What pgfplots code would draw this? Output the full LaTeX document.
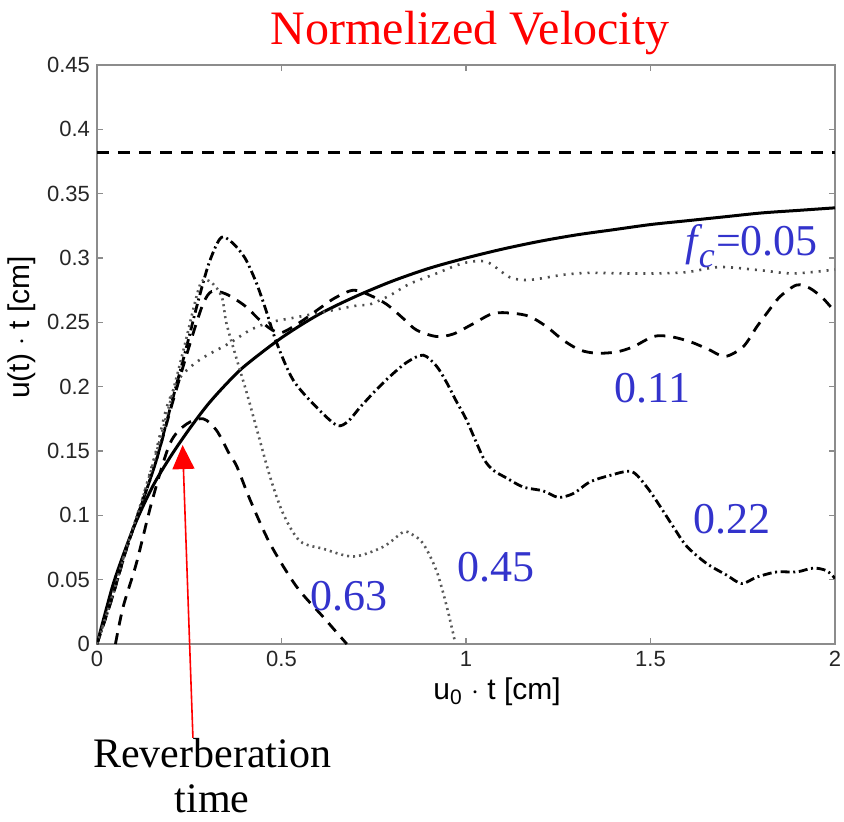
\documentclass[border=0pt]{standalone}
\usepackage{fontspec}
\setmainfont{Liberation Serif}
\setsansfont{Liberation Sans}
\usepackage{pgfplots}
\pgfplotsset{compat=1.18}
\usetikzlibrary{arrows.meta}
\definecolor{lblue}{RGB}{51,51,204}
\definecolor{axgray}{RGB}{140,140,140}
\begin{document}
\begin{tikzpicture}
\begin{axis}[name=ax, width=369pt, height=289.5pt, scale only axis,
  xmin=0, xmax=2, ymin=0, ymax=0.45,
  xtick={0,0.5,1,1.5,2}, xticklabels={0,0.5,1,1.5,2},
  ytick={0,0.05,0.1,0.15,0.2,0.25,0.3,0.35,0.4,0.45},
  yticklabels={0,0.05,0.1,0.15,0.2,0.25,0.3,0.35,0.4,0.45},
  tick align=inside, major tick length=3pt,
  axis line style={axgray, line width=1pt},
  tick style={axgray, line width=0.8pt},
  ticklabel style={font=\sffamily\fontsize{11}{13}\selectfont, text=black!85},
  clip mode=individual,
]
% horizontal asymptote
\addplot[black, line width=1.3pt, dash pattern=on 6pt off 4.5pt] coordinates {(0,0.382) (2,0.382)};
% solid reference curve
\addplot[black, line width=1.5pt, smooth] coordinates {
(0,0) (0.025,0.027) (0.05,0.052) (0.1,0.091) (0.15,0.122) (0.2,0.146) (0.25,0.167) (0.3,0.186)
(0.35,0.202) (0.4,0.216) (0.5,0.238) (0.6,0.256) (0.7,0.270) (0.8,0.282) (0.9,0.292) (1.0,0.300)
(1.1,0.307) (1.2,0.313) (1.3,0.318) (1.4,0.322) (1.5,0.326) (1.6,0.329) (1.7,0.332) (1.8,0.335)
(1.9,0.337) (2.0,0.339)};
% fc = 0.05 (dotted)
\addplot[black!70, line width=1.3pt, dash pattern=on 1pt off 3pt, smooth] coordinates {
(0,0) (0.04,0.036) (0.08,0.075) (0.12,0.11) (0.16,0.15) (0.19,0.185) (0.225,0.207) (0.279,0.221)
(0.360,0.234) (0.415,0.244) (0.469,0.250) (0.541,0.254) (0.613,0.258) (0.704,0.263) (0.740,0.264)
(0.794,0.271) (0.848,0.280) (0.920,0.288) (0.993,0.296) (1.056,0.297) (1.119,0.285) (1.173,0.283)
(1.264,0.287) (1.336,0.2885) (1.426,0.288) (1.508,0.288) (1.598,0.289) (1.688,0.293) (1.797,0.2905)
(1.887,0.288) (2.0,0.291)};
% fc = 0.11 (dashed)
\addplot[black, line width=1.4pt, dash pattern=on 5.5pt off 4pt, smooth] coordinates {
(0,0) (0.04,0.035) (0.08,0.074) (0.12,0.108) (0.16,0.142) (0.2,0.183) (0.24,0.222) (0.27,0.250)
(0.29,0.266) (0.311,0.274) (0.35,0.272) (0.40,0.263) (0.44,0.252) (0.47,0.245) (0.50,0.242)
(0.55,0.250) (0.604,0.261) (0.645,0.269) (0.695,0.275) (0.74,0.271) (0.785,0.264) (0.83,0.253)
(0.866,0.244) (0.92,0.239) (0.966,0.241) (1.02,0.249) (1.074,0.257) (1.128,0.257) (1.173,0.2545)
(1.219,0.2465) (1.264,0.236) (1.309,0.2285) (1.354,0.226) (1.408,0.227) (1.453,0.231) (1.508,0.239)
(1.553,0.239) (1.607,0.235) (1.657,0.229) (1.702,0.2235) (1.751,0.231) (1.788,0.2465) (1.815,0.257)
(1.851,0.270) (1.896,0.279) (1.932,0.2765) (1.968,0.2685) (2.0,0.258)};
% fc = 0.22 (dash-dot)
\addplot[black, line width=1.4pt, dash pattern=on 4.5pt off 1.8pt on 1pt off 1.8pt, smooth] coordinates {
(0,0) (0.04,0.035) (0.08,0.074) (0.12,0.108) (0.16,0.142) (0.2,0.185) (0.24,0.228) (0.27,0.262)
(0.30,0.293) (0.325,0.311) (0.342,0.3165) (0.37,0.311) (0.401,0.300) (0.43,0.282) (0.455,0.262)
(0.487,0.234) (0.532,0.205) (0.595,0.184) (0.650,0.170) (0.68,0.173) (0.713,0.184) (0.755,0.197)
(0.794,0.208) (0.84,0.219) (0.884,0.2245) (0.92,0.216) (0.948,0.203) (0.975,0.188) (1.0,0.175)
(1.029,0.156) (1.05,0.143) (1.074,0.135) (1.110,0.129) (1.155,0.122) (1.209,0.119) (1.250,0.114)
(1.291,0.117) (1.336,0.126) (1.390,0.131) (1.449,0.134) (1.490,0.122) (1.526,0.107) (1.562,0.091)
(1.598,0.076) (1.652,0.0626) (1.706,0.0536) (1.747,0.047) (1.788,0.052) (1.842,0.056) (1.896,0.056)
(1.941,0.059) (1.977,0.057) (2.0,0.051)};
% fc = 0.45 (dotted)
\addplot[black!65, line width=1.3pt, dash pattern=on 1pt off 2pt, smooth] coordinates {
(0,0) (0.04,0.036) (0.08,0.075) (0.12,0.11) (0.16,0.148) (0.2,0.19) (0.24,0.235) (0.265,0.265)
(0.284,0.282) (0.31,0.281) (0.338,0.270) (0.351,0.249) (0.379,0.221) (0.406,0.195) (0.433,0.167)
(0.469,0.130) (0.505,0.101) (0.550,0.080) (0.613,0.074) (0.695,0.068) (0.776,0.0756) (0.830,0.087)
(0.855,0.085) (0.884,0.078) (0.920,0.057) (0.948,0.029) (0.970,0.002)};
% fc = 0.63 (dashed)
\addplot[black, line width=1.4pt, dash pattern=on 5.5pt off 4pt, smooth] coordinates {
(0.05,0) (0.071,0.029) (0.107,0.063) (0.15,0.112) (0.198,0.156) (0.243,0.171) (0.288,0.175)
(0.324,0.166) (0.36,0.147) (0.379,0.138) (0.415,0.112) (0.469,0.078) (0.541,0.0445) (0.613,0.021)
(0.677,0)};
% labels
\node[anchor=base, text=red, font=\fontsize{24}{28}\selectfont] at (axis cs:1.011,0.466) {Normelized Velocity};
\node[anchor=base east, text=lblue, font=\fontsize{22}{26}\selectfont] at (axis cs:1.973,0.302) {\textit{f}\kern-0.1em\raisebox{-0.28em}{\fontsize{18}{20}\selectfont\textit{c}}\kern0.03em=0.05};
\node[anchor=base, text=lblue, font=\fontsize{22}{26}\selectfont] at (axis cs:1.505,0.188) {0.11};
\node[anchor=base, text=lblue, font=\fontsize{22}{26}\selectfont] at (axis cs:1.722,0.086) {0.22};
\node[anchor=base, text=lblue, font=\fontsize{22}{26}\selectfont] at (axis cs:1.081,0.0484) {0.45};
\node[anchor=base, text=lblue, font=\fontsize{22}{26}\selectfont] at (axis cs:0.683,0.0264) {0.63};
% axis labels
\node[anchor=base, font=\sffamily\fontsize{15}{18}\selectfont] at (axis cs:1.084,-0.0435) {u\textsubscript{0} $\cdot$ t [cm]};
\node[rotate=90, anchor=center, font=\sffamily\fontsize{15}{18}\selectfont] at (axis cs:-0.205,0.246) {u(t) $\cdot$ t [cm]};
% annotation
\draw[red, line width=0.8pt, -{Triangle[width=11pt,length=12pt]}] (axis cs:0.260,-0.073) -- (axis cs:0.232,0.1546);
\node[anchor=base, font=\fontsize{21}{25}\selectfont] at (axis cs:0.312,-0.0963) {Reverberation};
\node[anchor=base, font=\fontsize{21}{25}\selectfont] at (axis cs:0.312,-0.1313) {time};
\end{axis}
\pgfresetboundingbox
\path[use as bounding box] ([xshift=-48.5pt,yshift=-88.5pt]ax.south west) rectangle ([xshift=373.5pt,yshift=322pt]ax.south west);
\end{tikzpicture}
\end{document}
